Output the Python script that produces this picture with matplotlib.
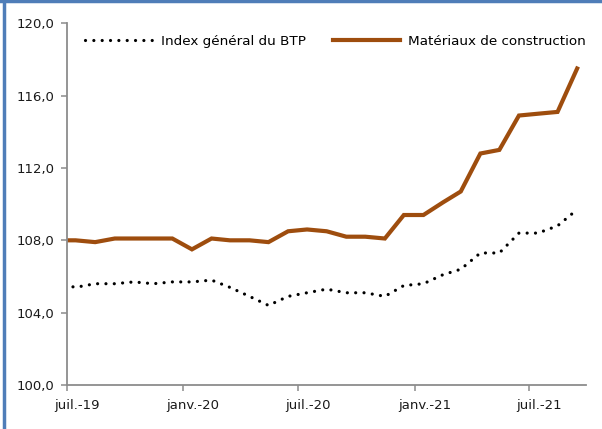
import matplotlib
matplotlib.use("Agg")
import matplotlib.pyplot as plt
import matplotlib.ticker as mticker
import matplotlib.transforms as mtrans
from matplotlib.lines import Line2D
import pandas as pd

# Monthly observations (mid-month), June 2019 -> September 2021
months = pd.date_range("2019-06-01", periods=28, freq="MS") + pd.Timedelta(days=14)

index_btp = [105.6, 105.4, 105.6, 105.6, 105.7, 105.6, 105.7,
             105.7, 105.8, 105.4, 104.9, 104.4, 104.9, 105.1,
             105.3, 105.1, 105.1, 104.9, 105.5, 105.6, 106.1,
             106.4, 107.3, 107.3, 108.4, 108.4, 108.8, 109.7]

materiaux = [108.0, 108.0, 107.9, 108.1, 108.1, 108.1, 108.1,
             107.5, 108.1, 108.0, 108.0, 107.9, 108.5, 108.6,
             108.5, 108.2, 108.2, 108.1, 109.4, 109.4, 110.1,
             110.7, 112.8, 113.0, 114.9, 115.0, 115.1, 117.5]

series_labels = ["Index général du BTP", "Matériaux de construction"]
tick_dates = pd.to_datetime(["2019-07-01", "2020-01-01", "2020-07-01",
                             "2021-01-01", "2021-07-01"])
tick_labels = ["juil.-19", "janv.-20", "juil.-20", "janv.-21", "juil.-21"]
y_ticks = [100, 104, 108, 112, 116, 120]

plt.rcParams["font.family"] = ["DejaVu Sans"]

fig = plt.figure(figsize=(6.02, 4.29), dpi=100)
ax = fig.add_axes([66.7 / 602, 1 - 385 / 429, (586 - 66.7) / 602, (385 - 23.3) / 429])

brown = "#9E4D0E"
ax.plot(months, index_btp, color="black", lw=2.3, linestyle=(0, (0.01, 2.6)),
        dash_capstyle="round", label=series_labels[0])
ax.plot(months, materiaux, color=brown, lw=3.0, solid_joinstyle="miter",
        label=series_labels[1])

ax.set_xlim(pd.Timestamp("2019-07-01"), pd.Timestamp("2021-09-29"))
ax.set_ylim(100, 120)
ax.set_xticks(tick_dates)
ax.set_xticklabels(tick_labels)
ax.set_yticks(y_ticks)
ax.yaxis.set_major_formatter(mticker.FuncFormatter(lambda v, p: f"{v:.1f}".replace(".", ",")))

for s in ["top", "right"]:
    ax.spines[s].set_visible(False)
for s in ["left", "bottom"]:
    ax.spines[s].set_color("#8c8c8c")
    ax.spines[s].set_linewidth(1.3)
ax.tick_params(axis="both", colors="#8c8c8c", labelcolor="#1a1a1a",
               length=4, width=1.1, labelsize=9.5, direction="out")
ax.tick_params(axis="x", pad=6)
ax.tick_params(axis="y", pad=5)

# Excel-style date labels sit slightly right of their tick
offset = mtrans.ScaledTranslation(10 / 100, 0, fig.dpi_scale_trans)
for lbl in ax.get_xticklabels():
    lbl.set_transform(lbl.get_transform() + offset)

leg = ax.legend(loc="upper center", bbox_to_anchor=(0.518, 0.995), ncol=2, frameon=False,
                fontsize=9.7, handlelength=5.0, handletextpad=0.6, columnspacing=2.0,
                borderaxespad=0.3)

# blue chart-area frame (left and top edges)
fig.add_artist(Line2D([4 / 602, 4 / 602], [0, 1], transform=fig.transFigure,
                      color="#4F7DB8", lw=2.5))
fig.add_artist(Line2D([0, 1], [1 - 1 / 429, 1 - 1 / 429], transform=fig.transFigure,
                      color="#4F7DB8", lw=2.5))

fig.savefig("out.png", dpi=100)
